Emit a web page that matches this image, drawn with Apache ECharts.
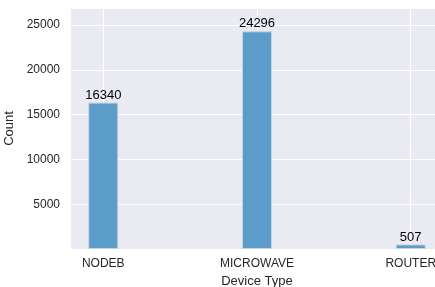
<!DOCTYPE html>
<html>
<head>
<meta charset="utf-8">
<script src="https://cdn.jsdelivr.net/npm/echarts@6/dist/echarts.min.js"></script>
<style>
  html, body { margin: 0; padding: 0; background: #fff; }
  #chart { width: 435px; height: 287px; }
</style>
</head>
<body>
<div id="chart"></div>
<script>
const categories = ['NODEB', 'MICROWAVE', 'ROUTER']
const counts = [16340, 24296, 507]
const yTicks = [5000, 10000, 15000, 20000, 25000]

const font = "'Liberation Sans', Arial, sans-serif"
const chart = echarts.init(document.getElementById('chart'))

chart.setOption({
  animation: false,
  backgroundColor: '#fff',
  grid: {
    left: 71, right: -8, top: 8, bottom: 38,
    outerBoundsMode: 'none',
    show: true, backgroundColor: '#eaeaf2', borderWidth: 0,
  },
  xAxis: {
    type: 'value',
    min: -0.21,
    max: 2.21,
    name: 'Device Type',
    nameLocation: 'middle',
    nameGap: 26,
    nameTextStyle: { color: '#262626', fontSize: 13, fontFamily: font },
    axisLine: { show: false },
    axisTick: { show: false, customValues: [0, 1, 2] },
    axisLabel: {
      customValues: [0, 1, 2],
      formatter: v => categories[Math.round(v)] || '',
      color: '#262626', fontSize: 12, fontFamily: font, margin: 9,
    },
    splitLine: { show: true, lineStyle: { color: '#fff', width: 1 } },
  },
  yAxis: {
    type: 'value',
    min: 0,
    max: 26900,
    interval: 5000,
    name: 'Count',
    nameLocation: 'middle',
    nameGap: 45,
    nameTextStyle: { color: '#262626', fontSize: 13, fontFamily: font },
    axisLine: { show: false },
    axisTick: { show: false },
    axisLabel: {
      showMinLabel: false,
      showMaxLabel: false,
      formatter: v => yTicks.includes(v) ? String(v) : '',
      color: '#262626', fontSize: 12, fontFamily: font, margin: 11,
    },
    splitLine: { lineStyle: { color: '#fff', width: 1 } },
  },
  series: [{
    type: 'bar',
    data: counts.map((c, i) => [i, c]),
    barWidth: 30,
    itemStyle: { color: '#5b9ccb', borderColor: '#c9d3df', borderWidth: 1 },
    label: {
      show: true,
      position: 'top',
      distance: 1,
      color: '#000',
      fontSize: 13,
      fontFamily: font,
      formatter: p => String(p.value[1]),
    },
  }],
})
</script>
</body>
</html>
